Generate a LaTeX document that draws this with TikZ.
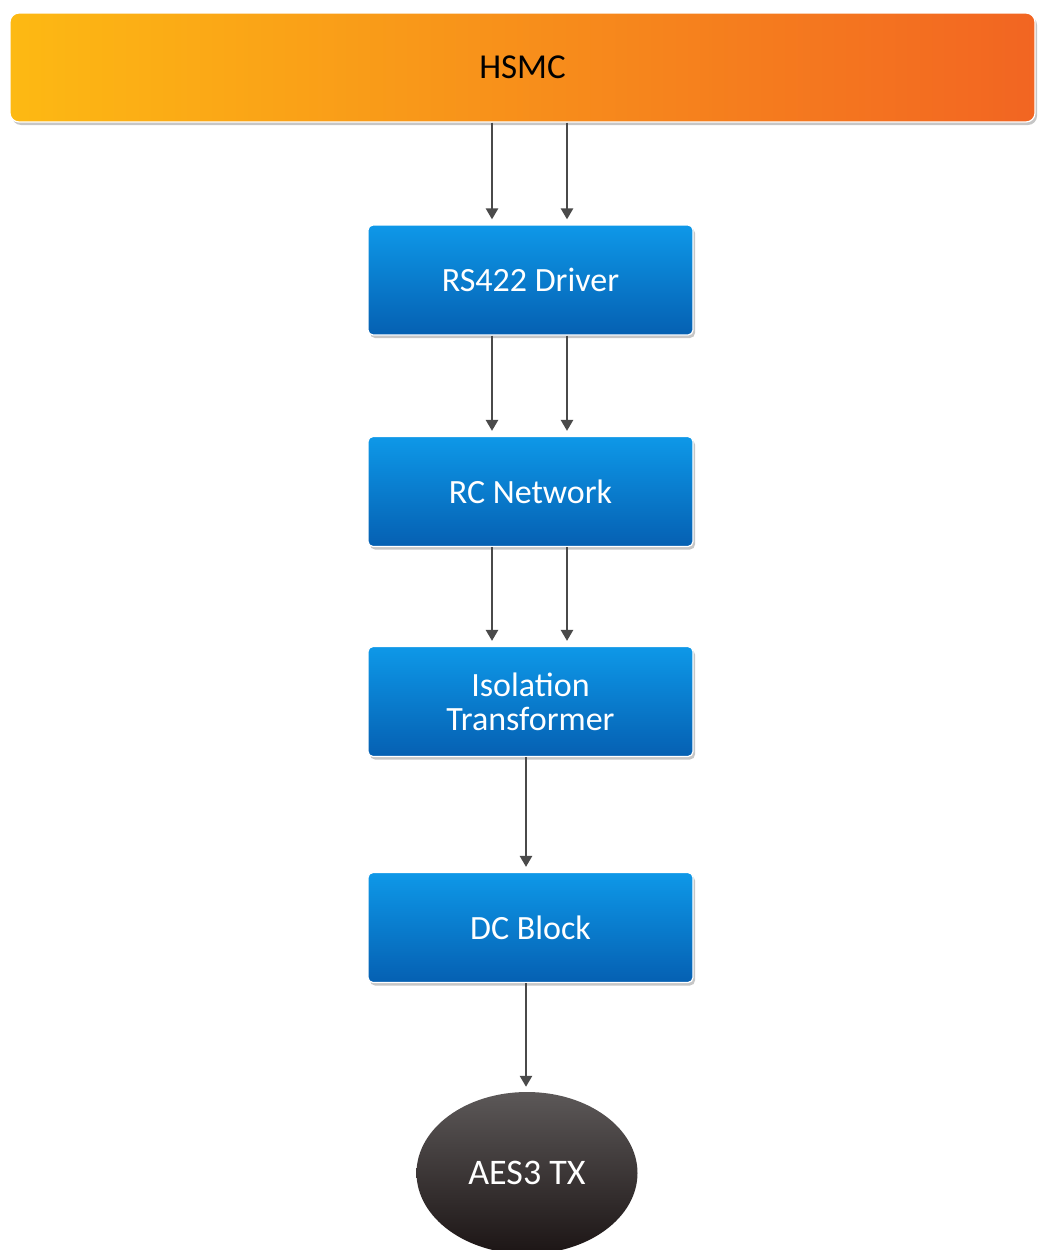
\documentclass[tikz,border=0pt]{standalone}
\usepackage{fontspec}
\setmainfont{Carlito}
\usetikzlibrary{shadows,shapes.geometric,arrows.meta}
\definecolor{orL}{HTML}{FDB913}
\definecolor{orR}{HTML}{F26522}
\definecolor{blT}{HTML}{0E98E8}
\definecolor{blB}{HTML}{0560B2}
\definecolor{dkT}{HTML}{5C5858}
\definecolor{dkB}{HTML}{1C1515}
\definecolor{arrc}{HTML}{4A4A4A}
\tikzset{
  bar/.style={rounded corners=9pt, left color=orL, right color=orR, draw=white, line width=1.2pt,
    minimum width=1025pt, minimum height=109pt, font=\fontsize{35}{35}\selectfont, text=black,
    drop shadow={shadow xshift=2pt, shadow yshift=-3pt, opacity=0.45, fill=gray}},
  blk/.style={rounded corners=5pt, top color=blT, bottom color=blB, draw=white, line width=1.2pt,
    minimum width=325pt, minimum height=110pt, text=white, align=center,
    font=\fontsize{34}{34}\selectfont,
    drop shadow={shadow xshift=2pt, shadow yshift=-3pt, opacity=0.45, fill=gray}},
  term/.style={ellipse, top color=dkT, bottom color=dkB, minimum width=221pt, minimum height=162pt,
    text=white, font=\fontsize{36}{36}\selectfont},
  arr/.style={draw=arrc, line width=2.5pt, -{Triangle[length=11pt,width=12pt]}, shorten >=5pt}
}
\begin{document}
\begin{tikzpicture}[x=1pt,y=-1pt]
\useasboundingbox (0,0) rectangle (1038,1250);
\node[bar] (hsmc) at (522.5,67.5) {HSMC};
\node[blk] (rs) at (530.5,280) {RS422 Driver};
\node[blk] (rc) at (530.5,491.5) {RC Network};
\node[blk] (iso) at (530.5,701.5) {Isolation\\Transformer};
\node[blk] (dc) at (530.5,927.5) {DC Block};
\node[term] (aes) at (527,1173) {AES3 TX};
\foreach \a/\b in {hsmc/rs, rs/rc, rc/iso}{
  \draw[arr] ([xshift=-38.5pt]rs.north |- \a.south) -- ([xshift=-38.5pt]rs.north |- \b.north);
  \draw[arr] ([xshift=36.5pt]rs.north |- \a.south) -- ([xshift=36.5pt]rs.north |- \b.north);
}
\draw[arr] ([xshift=-4.5pt]iso.south) -- ([xshift=-4.5pt]dc.north);
\draw[arr] ([xshift=-4.5pt]dc.south) -- ([xshift=-4.5pt]dc.south |- aes.north);
\end{tikzpicture}
\end{document}
